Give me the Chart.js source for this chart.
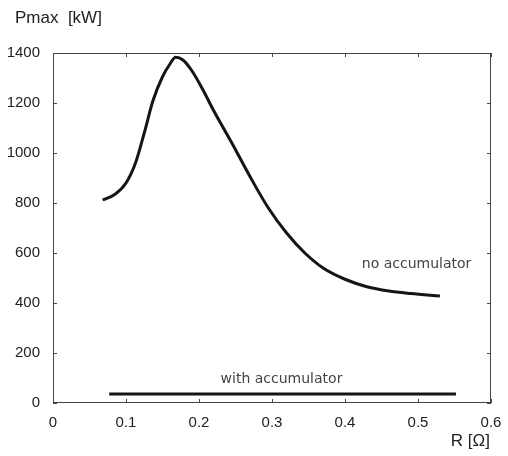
<!DOCTYPE html>
<html>
<head>
<meta charset="utf-8">
<script src="https://cdn.jsdelivr.net/npm/chart.js@4/dist/chart.umd.min.js"></script>
<style>
  html, body { margin: 0; padding: 0; background: #fff; }
  #wrap { width: 508px; height: 456px; }
</style>
</head>
<body>
<div id="wrap"><canvas id="myChart" width="508" height="456"></canvas></div>
<script>
// R [Ohm] and Pmax [kW]
const rNoAcc = [0.068, 0.085, 0.100, 0.113, 0.125, 0.137, 0.150, 0.160, 0.168, 0.178, 0.190, 0.205,
                0.220, 0.245, 0.270, 0.295, 0.320, 0.345, 0.370, 0.400, 0.430, 0.460, 0.490, 0.530];
const pNoAcc = [812, 835, 880, 960, 1080, 1210, 1305, 1355, 1383, 1372, 1330, 1255,
                1170, 1040, 905, 780, 680, 600, 540, 495, 465, 448, 438, 428];
const rWithAcc = [0.077, 0.552];
const pWithAcc = [36, 36];

const xTicks = [0, 0.1, 0.2, 0.3, 0.4, 0.5, 0.6];
const yTicks = [0, 200, 400, 600, 800, 1000, 1200, 1400];

const curveNames = ['no accumulator', 'with accumulator'];

function toPoints(xs, ys) {
    var pts = [];
    for (var i = 0; i < xs.length; i++) {
        pts.push({ x: xs[i], y: ys[i] });
    }
    return pts;
}

// frame, inward ticks, axis titles and curve labels (matlab look)
const matlabFrame = {
    id: 'matlabFrame',
    afterDraw(chart) {
        const ctx = chart.ctx;
        const a = chart.chartArea;
        const xs = chart.scales.x;
        const ys = chart.scales.y;
        ctx.save();
        ctx.strokeStyle = '#444';
        ctx.lineWidth = 1;
        ctx.strokeRect(a.left + 0.5, a.top + 0.5, a.right - a.left - 1, a.bottom - a.top - 1);

        ctx.beginPath();
        xTicks.forEach(v => {
            const px = Math.round(xs.getPixelForValue(v)) + 0.5;
            ctx.moveTo(px, a.bottom); ctx.lineTo(px, a.bottom - 4);
            ctx.moveTo(px, a.top); ctx.lineTo(px, a.top + 4);
        });
        yTicks.forEach(v => {
            const py = Math.round(ys.getPixelForValue(v)) + 0.5;
            ctx.moveTo(a.left, py); ctx.lineTo(a.left + 4, py);
            ctx.moveTo(a.right, py); ctx.lineTo(a.right - 4, py);
        });
        ctx.stroke();

        ctx.fillStyle = '#222';
        ctx.font = '17px "Liberation Sans", Arial, sans-serif';
        ctx.textBaseline = 'middle';
        ctx.textAlign = 'left';
        ctx.fillText('Pmax  [kW]', 15, 18);
        ctx.textAlign = 'right';
        ctx.fillText('R [\u03A9]', 490, 441);

        // curve labels
        ctx.fillStyle = '#444';
        ctx.font = '14px "DejaVu Sans", sans-serif';
        ctx.textAlign = 'center';
        ctx.fillText(curveNames[0], xs.getPixelForValue(0.498), ys.getPixelForValue(555));
        ctx.fillText(curveNames[1], xs.getPixelForValue(0.313), ys.getPixelForValue(96));
        ctx.restore();
    }
};

const data = {
    datasets: [{
        label: curveNames[0],
        data: toPoints(rNoAcc, pNoAcc),
        borderColor: '#151515',
        borderWidth: 3,
        pointRadius: 0,
        cubicInterpolationMode: 'monotone',
        fill: false
    }, {
        label: curveNames[1],
        data: toPoints(rWithAcc, pWithAcc),
        borderColor: '#151515',
        borderWidth: 3,
        pointRadius: 0,
        fill: false
    }]
};

const config = {
    type: 'line',
    data: data,
    options: {
        responsive: false,
        animation: false,
        layout: { padding: { top: 53, right: 17, left: 0, bottom: 0 } },
        plugins: {
            legend: { display: false },
            tooltip: { enabled: false }
        },
        scales: {
            x: {
                type: 'linear',
                min: 0,
                max: 0.6,
                grid: { display: false },
                border: { display: false },
                afterBuildTicks: s => { s.ticks = xTicks.map(v => ({ value: v })); },
                afterFit: s => { s.height = 53; },
                ticks: {
                    color: '#222',
                    padding: 3,
                    maxRotation: 0,
                    font: { family: '"Liberation Sans", Arial, sans-serif', size: 15 },
                    callback: v => String(Number(v.toFixed(1)))
                }
            },
            y: {
                type: 'linear',
                min: 0,
                max: 1400,
                grid: { display: false },
                border: { display: false },
                afterBuildTicks: s => { s.ticks = yTicks.map(v => ({ value: v })); },
                afterFit: s => { s.width = 53; },
                ticks: {
                    color: '#222',
                    padding: 5,
                    font: { family: '"Liberation Sans", Arial, sans-serif', size: 15 },
                    callback: v => String(v)
                }
            }
        }
    },
    plugins: [matlabFrame]
};

var myChartJS = new Chart(document.getElementById('myChart'), config);
</script>
</body>
</html>
